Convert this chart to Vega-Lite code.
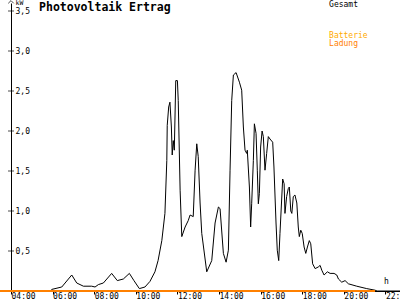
{
  "$schema": "https://vega.github.io/schema/vega-lite/v6.json",
  "width": 389,
  "height": 288,
  "autosize": {"type": "none"},
  "padding": {"left": 11, "top": 3, "right": 0, "bottom": 9},
  "background": "white",
  "config": {"view": {"stroke": null}, "font": "DejaVu Sans Mono"},
  "datasets": {
    "gesamt": [
      {"h": 4.0, "kw": 0}, {"h": 5.9, "kw": 0}, {"h": 5.96, "kw": 0.02}, {"h": 6.44, "kw": 0.05},
      {"h": 6.92, "kw": 0.2}, {"h": 7.16, "kw": 0.1}, {"h": 7.48, "kw": 0.06}, {"h": 7.88, "kw": 0.06},
      {"h": 8.04, "kw": 0.05}, {"h": 8.2, "kw": 0.08}, {"h": 8.44, "kw": 0.1}, {"h": 8.84, "kw": 0.22},
      {"h": 9.11, "kw": 0.13}, {"h": 9.4, "kw": 0.15}, {"h": 9.69, "kw": 0.22}, {"h": 9.91, "kw": 0.13},
      {"h": 10.17, "kw": 0.03}, {"h": 10.44, "kw": 0.05}, {"h": 10.68, "kw": 0.12}, {"h": 10.92, "kw": 0.24},
      {"h": 11.07, "kw": 0.38}, {"h": 11.25, "kw": 0.63}, {"h": 11.4, "kw": 0.97}, {"h": 11.49, "kw": 1.63},
      {"h": 11.51, "kw": 2.07}, {"h": 11.58, "kw": 2.3}, {"h": 11.64, "kw": 2.36}, {"h": 11.71, "kw": 2.05},
      {"h": 11.75, "kw": 1.7}, {"h": 11.8, "kw": 1.88}, {"h": 11.85, "kw": 1.76}, {"h": 11.92, "kw": 2.63},
      {"h": 12.0, "kw": 2.63}, {"h": 12.04, "kw": 2.38}, {"h": 12.13, "kw": 1.26}, {"h": 12.21, "kw": 0.68},
      {"h": 12.37, "kw": 0.8}, {"h": 12.52, "kw": 0.88}, {"h": 12.61, "kw": 0.95}, {"h": 12.76, "kw": 0.93},
      {"h": 12.85, "kw": 1.51}, {"h": 12.93, "kw": 1.84}, {"h": 13.0, "kw": 1.68}, {"h": 13.09, "kw": 1.1},
      {"h": 13.17, "kw": 0.72}, {"h": 13.33, "kw": 0.4}, {"h": 13.41, "kw": 0.24}, {"h": 13.65, "kw": 0.38},
      {"h": 13.81, "kw": 0.85}, {"h": 13.97, "kw": 1.05}, {"h": 14.05, "kw": 1.03}, {"h": 14.21, "kw": 0.47},
      {"h": 14.34, "kw": 0.36}, {"h": 14.45, "kw": 0.51}, {"h": 14.53, "kw": 1.51}, {"h": 14.61, "kw": 2.38},
      {"h": 14.69, "kw": 2.7}, {"h": 14.82, "kw": 2.73}, {"h": 14.98, "kw": 2.61}, {"h": 15.09, "kw": 2.51},
      {"h": 15.17, "kw": 2.05}, {"h": 15.25, "kw": 1.76}, {"h": 15.33, "kw": 1.72}, {"h": 15.36, "kw": 1.76},
      {"h": 15.46, "kw": 1.3}, {"h": 15.52, "kw": 0.8}, {"h": 15.57, "kw": 1.09}, {"h": 15.65, "kw": 1.63},
      {"h": 15.7, "kw": 2.09}, {"h": 15.78, "kw": 1.97}, {"h": 15.84, "kw": 1.51}, {"h": 15.89, "kw": 1.09},
      {"h": 15.94, "kw": 1.22}, {"h": 16.0, "kw": 1.8}, {"h": 16.07, "kw": 2.0}, {"h": 16.13, "kw": 1.93},
      {"h": 16.21, "kw": 1.51}, {"h": 16.29, "kw": 1.72}, {"h": 16.37, "kw": 1.93}, {"h": 16.45, "kw": 1.9},
      {"h": 16.58, "kw": 1.86}, {"h": 16.64, "kw": 1.55}, {"h": 16.74, "kw": 0.85}, {"h": 16.8, "kw": 0.51},
      {"h": 16.87, "kw": 0.38}, {"h": 16.93, "kw": 0.72}, {"h": 17.06, "kw": 1.4}, {"h": 17.13, "kw": 1.34},
      {"h": 17.17, "kw": 0.97}, {"h": 17.25, "kw": 1.18}, {"h": 17.33, "kw": 1.28}, {"h": 17.38, "kw": 1.3},
      {"h": 17.45, "kw": 1.0}, {"h": 17.5, "kw": 0.97}, {"h": 17.57, "kw": 1.18}, {"h": 17.65, "kw": 1.2},
      {"h": 17.74, "kw": 1.1}, {"h": 17.81, "kw": 0.8}, {"h": 17.86, "kw": 0.68}, {"h": 17.93, "kw": 0.76},
      {"h": 18.0, "kw": 0.72}, {"h": 18.09, "kw": 0.55}, {"h": 18.17, "kw": 0.47}, {"h": 18.25, "kw": 0.55},
      {"h": 18.34, "kw": 0.63}, {"h": 18.41, "kw": 0.59}, {"h": 18.5, "kw": 0.34}, {"h": 18.62, "kw": 0.28},
      {"h": 18.77, "kw": 0.3}, {"h": 18.86, "kw": 0.32}, {"h": 18.94, "kw": 0.26}, {"h": 19.05, "kw": 0.2},
      {"h": 19.21, "kw": 0.24}, {"h": 19.34, "kw": 0.22}, {"h": 19.53, "kw": 0.22}, {"h": 19.66, "kw": 0.2},
      {"h": 19.74, "kw": 0.15}, {"h": 19.9, "kw": 0.11}, {"h": 20.06, "kw": 0.13}, {"h": 20.22, "kw": 0.09},
      {"h": 20.62, "kw": 0.06}, {"h": 21.1, "kw": 0.03}, {"h": 21.5, "kw": 0.01}, {"h": 21.6, "kw": 0},
      {"h": 22.7, "kw": 0}
    ],
    "batterie": [{"h": 3.47, "kw": 0}, {"h": 21.5, "kw": 0}],
    "yticks": [{"v": 0.5}, {"v": 1.0}, {"v": 1.5}, {"v": 2.0}, {"v": 2.5}, {"v": 3.0}, {"v": 3.5}]
  },
  "layer": [
    {
      "data": {"name": "gesamt"},
      "mark": {"type": "line", "color": "black", "strokeWidth": 1},
      "encoding": {
        "x": {
          "field": "h", "type": "quantitative",
          "scale": {"domain": [4, 22.7], "nice": false, "zero": false},
          "axis": {
            "values": [4, 6, 8, 10, 12, 14, 16, 18, 20, 22],
            "labelExpr": "(datum.value < 10 ? '0' : '') + datum.value + ':00'",
            "labelAlign": "left", "labelBaseline": "top", "labelPadding": -2,
            "tickSize": 3, "tickColor": "black", "domainColor": "black",
            "labelColor": "black", "labelFontSize": 8, "labelFont": "DejaVu Sans Mono",
            "grid": false, "labelOverlap": false, "labelFlush": false,
            "title": "h", "titleX": 375, "titleY": -10, "titleAlign": "center",
            "titleBaseline": "middle", "titleFontWeight": "normal", "titleFontSize": 8,
            "titleColor": "black", "titleFont": "DejaVu Sans Mono"
          }
        },
        "y": {
          "field": "kw", "type": "quantitative",
          "scale": {"domain": [0, 3.6], "nice": false},
          "axis": {
            "values": [0.5, 1, 1.5, 2, 2.5, 3, 3.5],
            "labelExpr": "replace(format(datum.value, '.1f'), '.', ',')",
            "labelAlign": "left", "labelBaseline": "middle", "labelPadding": -4,
            "ticks": false, "domainColor": "black",
            "labelColor": "black", "labelFontSize": 8, "labelFont": "DejaVu Sans Mono",
            "grid": false, "labelOverlap": false, "labelFlush": false,
            "title": "kW", "titleAngle": 0, "titleX": 4, "titleY": -4, "titleAlign": "left",
            "titleBaseline": "top", "titleFontWeight": "normal", "titleFontSize": 6.5,
            "titleColor": "black", "titleFont": "DejaVu Sans Mono"
          }
        }
      }
    },
    {
      "data": {"name": "batterie"},
      "mark": {"type": "line", "color": "#FF8000", "strokeWidth": 2, "clip": false},
      "encoding": {
        "x": {"field": "h", "type": "quantitative"},
        "y": {"field": "kw", "type": "quantitative"}
      }
    },
    {
      "data": {"name": "yticks"},
      "mark": {"type": "tick", "orient": "horizontal", "color": "black", "size": 6, "thickness": 1},
      "encoding": {
        "x": {"datum": 4},
        "y": {"field": "v", "type": "quantitative"}
      }
    },
    {
      "data": {"values": [{}]},
      "mark": {"type": "point", "shape": "M-1,1L0,0L1,1", "filled": false, "stroke": "black", "strokeWidth": 1, "size": 30, "clip": false},
      "encoding": {"x": {"datum": 4}, "y": {"datum": 3.63}}
    },
    {
      "data": {"values": [{}]},
      "mark": {"type": "text", "text": "Photovoltaik Ertrag", "align": "left", "baseline": "alphabetic", "fontSize": 11.5, "fontWeight": "bold", "font": "DejaVu Sans Mono", "color": "black"},
      "encoding": {"x": {"datum": 5.35}, "y": {"datum": 3.5}}
    },
    {
      "data": {"values": [{}]},
      "mark": {"type": "text", "text": "Gesamt", "align": "left", "baseline": "middle", "fontSize": 8, "font": "DejaVu Sans Mono", "color": "black"},
      "encoding": {"x": {"datum": 19.29}, "y": {"datum": 3.575}}
    },
    {
      "data": {"values": [{}]},
      "mark": {"type": "text", "text": "Batterie", "align": "left", "baseline": "middle", "fontSize": 8, "font": "DejaVu Sans Mono", "color": "#FFAA00"},
      "encoding": {"x": {"datum": 19.29}, "y": {"datum": 3.19}}
    },
    {
      "data": {"values": [{}]},
      "mark": {"type": "text", "text": "Ladung", "align": "left", "baseline": "middle", "fontSize": 8, "font": "DejaVu Sans Mono", "color": "#FF8000"},
      "encoding": {"x": {"datum": 19.29}, "y": {"datum": 3.085}}
    }
  ]
}
